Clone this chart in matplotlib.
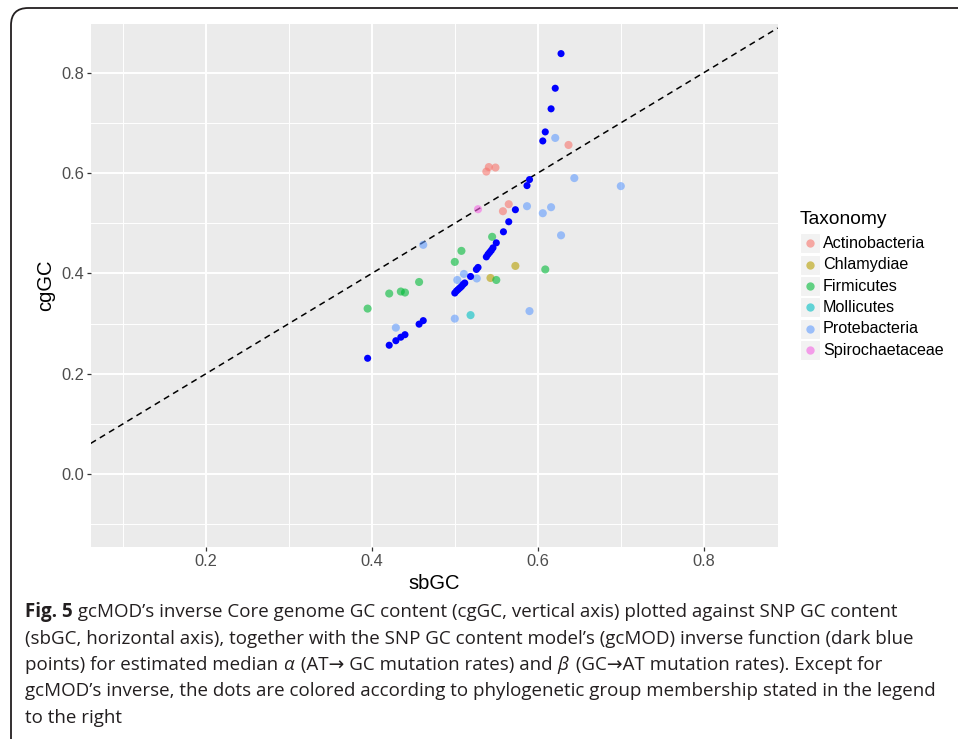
import matplotlib
matplotlib.use("Agg")
import matplotlib.pyplot as plt
from matplotlib.patches import FancyBboxPatch, Rectangle
import numpy as np

# ---------------- data ----------------
taxa = ["Actinobacteria", "Chlamydiae", "Firmicutes", "Mollicutes",
        "Protebacteria", "Spirochaetaceae"]
taxa_colors = ["#F8766D", "#B79F00", "#00BA38", "#00BFC4", "#619CFF", "#F564E3"]

actino_x = [0.538, 0.541, 0.549, 0.637, 0.565, 0.558]
actino_y = [0.603, 0.612, 0.611, 0.656, 0.538, 0.524]
chlam_x = [0.573, 0.543]
chlam_y = [0.415, 0.391]
firm_x = [0.545, 0.508, 0.500, 0.609, 0.550, 0.457, 0.421, 0.435, 0.440, 0.395]
firm_y = [0.473, 0.445, 0.423, 0.408, 0.387, 0.383, 0.360, 0.364, 0.362, 0.330]
moll_x = [0.519]
moll_y = [0.317]
prot_x = [0.621, 0.644, 0.700, 0.587, 0.606, 0.616, 0.628, 0.462, 0.511, 0.503,
          0.5265, 0.500, 0.590, 0.429]
prot_y = [0.670, 0.590, 0.574, 0.534, 0.520, 0.532, 0.476, 0.457, 0.399, 0.387,
          0.390, 0.310, 0.325, 0.292]
spiro_x = [0.528]
spiro_y = [0.528]

# gcMOD inverse (dark blue points)
inv_x = [0.628, 0.621, 0.616, 0.609, 0.606, 0.590, 0.587, 0.573, 0.565, 0.5586,
         0.550, 0.546, 0.544, 0.542, 0.540, 0.538, 0.528, 0.526, 0.519, 0.512,
         0.510, 0.508, 0.506, 0.504, 0.502, 0.500, 0.462, 0.457, 0.440, 0.435,
         0.429, 0.421, 0.395]
inv_y = [0.838, 0.769, 0.728, 0.682, 0.664, 0.587, 0.575, 0.527, 0.503, 0.483,
         0.461, 0.451, 0.446, 0.442, 0.438, 0.433, 0.412, 0.408, 0.394, 0.381,
         0.378, 0.374, 0.371, 0.368, 0.365, 0.361, 0.306, 0.299, 0.278, 0.273,
         0.266, 0.257, 0.231]

series_x = [actino_x, chlam_x, firm_x, moll_x, prot_x, spiro_x]
series_y = [actino_y, chlam_y, firm_y, moll_y, prot_y, spiro_y]

x_major = [0.2, 0.4, 0.6, 0.8]
y_major = [0.0, 0.2, 0.4, 0.6, 0.8]
x_minor = [0.1, 0.3, 0.5, 0.7]
y_minor = [-0.1, 0.1, 0.3, 0.5, 0.7]

# ---------------- figure ----------------
W, H = 958, 739
fig = plt.figure(figsize=(W / 100, H / 100), dpi=100)
fig.patch.set_facecolor("white")

def fx(px):
    return px / W

def fy(py):
    return 1 - py / H

# outer rounded frame (extends beyond right/bottom edges)
frame = FancyBboxPatch((fx(11), fy(760)), fx(980 - 11), (760 - 8) / H,
                       boxstyle="round,pad=0,rounding_size=0.018",
                       transform=fig.transFigure, fill=False,
                       edgecolor="#231F20", linewidth=1.3, mutation_aspect=W / H,
                       clip_on=False)
fig.patches.append(frame)

left, right, top, bottom = 90.7, 777.7, 24.0, 546.7
ax = fig.add_axes([fx(left), fy(bottom), fx(right - left), (bottom - top) / H])
ax.set_facecolor("#EBEBEB")
for s in ax.spines.values():
    s.set_visible(False)

ax.set_xlim(0.0614, 0.889)
ax.set_ylim(-0.1444, 0.897)
ax.set_xticks(x_major)
ax.set_yticks(y_major)
ax.set_xticks(x_minor, minor=True)
ax.set_yticks(y_minor, minor=True)
ax.set_xticklabels([f"{v:.1f}" for v in x_major])
ax.set_yticklabels([f"{v:.1f}" for v in y_major])
ax.grid(True, which="major", color="white", linewidth=1.4)
ax.grid(True, which="minor", color="white", linewidth=0.7)
ax.set_axisbelow(True)
ax.tick_params(which="major", length=3, width=0.9, color="#333333",
               labelcolor="#4D4D4D", labelsize=11.8, pad=2)
ax.tick_params(which="minor", length=0)
for lab in ax.get_xticklabels() + ax.get_yticklabels():
    lab.set_fontfamily("Liberation Sans")

ax.set_xlabel("sbGC", fontsize=14.5, family="Liberation Sans", labelpad=4)
ax.set_ylabel("cgGC", fontsize=14.5, family="Liberation Sans", labelpad=4)

# y = x reference line
xl = np.array(ax.get_xlim())
ax.plot(xl, xl, color="black", linestyle=(0, (4, 3)), linewidth=1.1, zorder=2)

for xs, ys, c, name in zip(series_x, series_y, taxa_colors, taxa):
    ax.scatter(xs, ys, s=34, color=c, alpha=0.6, edgecolors="none", zorder=3,
               label=name)
ax.scatter(inv_x, inv_y, s=26, color="#0000FF", edgecolors="none", zorder=4)

# ---------------- legend (drawn manually, ggplot style) ----------------
fig.text(fx(800), fy(220), "Taxonomy", fontsize=13.8, family="Liberation Sans",
         ha="left", va="center")
row_y = [243.3, 264.8, 286.2, 307.5, 328.8, 350.2]
for name, c, ry in zip(taxa, taxa_colors, row_y):
    fig.patches.append(Rectangle((fx(800), fy(ry + 10)), fx(20), 20 / H,
                                 transform=fig.transFigure, facecolor="#F2F2F2",
                                 edgecolor="white", linewidth=0.8))
    fig.add_artist(plt.Line2D([fx(810)], [fy(ry)], marker="o", markersize=6,
                              markerfacecolor=c, markeredgecolor="none",
                              alpha=0.6, transform=fig.transFigure))
    fig.text(fx(823), fy(ry), name, fontsize=11.6, family="Liberation Sans",
             ha="left", va="center")

# ---------------- caption ----------------
renderer = fig.canvas.get_renderer()
cap_family = ["Open Sans", "DejaVu Sans"]

def twidth(s, size, **kw):
    t = fig.text(0, 0, s + "|", fontsize=size, family=cap_family, **kw)
    w1 = t.get_window_extent(renderer).width
    t.remove()
    t = fig.text(0, 0, "|", fontsize=size, family=cap_family, **kw)
    w2 = t.get_window_extent(renderer).width
    t.remove()
    return w1 - w2

lines = [
    [("Fig. 5", {"fontweight": "bold"}),
     (" gcMOD\u2019s inverse Core genome GC content (cgGC, vertical axis) plotted against SNP GC content", {})],
    [("(sbGC, horizontal axis), together with the SNP GC content model\u2019s (gcMOD) inverse function (dark blue", {})],
    [("points) for estimated median ", {}), ("\u03b1", {"style": "italic"}),
     (" (AT\u2192 GC mutation rates) and ", {}), ("\u03b2", {"style": "italic"}),
     (" (GC\u2192AT mutation rates). Except for", {})],
    [("gcMOD\u2019s inverse, the dots are colored according to phylogenetic group membership stated in the legend", {})],
    [("to the right", {})],
]

ref_size = 10.0
w_ref = twidth(lines[3][0][0], ref_size)
cap_size = ref_size * (938 - 25) / w_ref

baselines = [617, 643.5, 670, 696.5, 723]
for pieces, by in zip(lines, baselines):
    x = 25.0
    for s, kw in pieces:
        fig.text(fx(x), fy(by), s, fontsize=cap_size, family=cap_family,
                 color="#231F20", ha="left", va="baseline", **kw)
        x += twidth(s, cap_size, **kw)
        if kw.get("style") == "italic":
            x += 2.5

fig.savefig("out.png", dpi=100)
